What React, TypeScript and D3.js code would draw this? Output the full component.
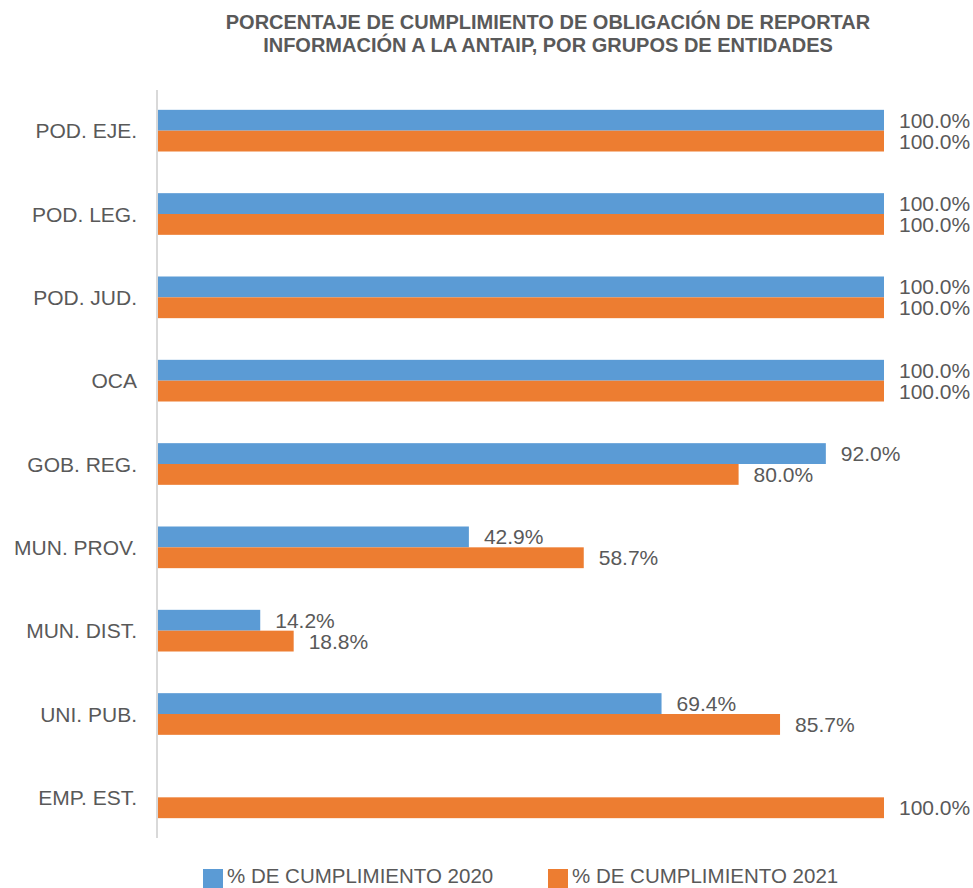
import React from 'react';
import * as d3 from 'd3';

const categories = ['POD. EJE.', 'POD. LEG.', 'POD. JUD.', 'OCA', 'GOB. REG.', 'MUN. PROV.', 'MUN. DIST.', 'UNI. PUB.', 'EMP. EST.'];
const values2020: (number | null)[] = [1, 1, 1, 1, 0.92, 0.429, 0.142, 0.694, null];
const values2021: (number | null)[] = [1, 1, 1, 1, 0.8, 0.587, 0.188, 0.857, 1];
const seriesNames = ['% DE CUMPLIMIENTO 2020', '% DE CUMPLIMIENTO 2021'];
const colors = ['#5B9BD5', '#ED7D31'];
const titleLines = ['PORCENTAJE DE CUMPLIMIENTO DE OBLIGACIÓN DE REPORTAR', 'INFORMACIÓN A LA ANTAIP, POR GRUPOS DE ENTIDADES'];

const W = 973;
const H = 888;
const textColor = '#595959';
const font = '"Liberation Sans", Arial, sans-serif';

export default function App() {
  const x = d3.scaleLinear().domain([0, 1]).range([157, 884]);
  const y0 = d3.scaleBand<string>().domain(categories).range([89, 839]).paddingInner(0.5).paddingOuter(0.25);
  const y1 = d3.scaleBand<string>().domain(['2020', '2021']).range([0, y0.bandwidth()]);
  const series = [values2020, values2021];
  const fmt = d3.format('.1%');

  return (
    <svg width={W} height={H} style={{ position: 'absolute', left: 0, top: 0, background: '#fff' }} fontFamily={font}>
      {/* title */}
      {titleLines.map((t, i) => (
        <text key={t} x={548} y={29 + i * 23} textAnchor="middle" fontSize={20} fontWeight="bold" fill={textColor}>{t}</text>
      ))}

      {/* bars */}
      {categories.map((c, ci) => (
        <g key={c} transform={`translate(0,${y0(c)})`}>
          {series.map((vals, si) => {
            const v = vals[ci];
            if (v == null) return null;
            const key = si === 0 ? '2020' : '2021';
            const yy = y1(key) as number;
            return (
              <g key={key}>
                <rect x={x(0)} y={yy} width={x(v) - x(0)} height={y1.bandwidth()} fill={colors[si]} />
                <text x={x(v) + 15} y={yy + y1.bandwidth() / 2} dy="0.36em" fontSize={21} fill={textColor}>{fmt(v)}</text>
              </g>
            );
          })}
        </g>
      ))}

      {/* category axis */}
      <line x1={x(0)} x2={x(0)} y1={90} y2={838} stroke="#D9D9D9" strokeWidth={2} />
      {categories.map(c => (
        <text key={c} x={137} y={(y0(c) as number) + y0.bandwidth() / 2} dy="0.36em" textAnchor="end" fontSize={21} fill={textColor}>{c}</text>
      ))}

      {/* legend */}
      {seriesNames.map((s, i) => {
        const lx = i === 0 ? 203 : 548;
        return (
          <g key={s}>
            <rect x={lx} y={869} width={20} height={19} fill={colors[i]} />
            <text x={lx + 24} y={883} fontSize={20.5} fill={textColor}>{s}</text>
          </g>
        );
      })}
    </svg>
  );
}
